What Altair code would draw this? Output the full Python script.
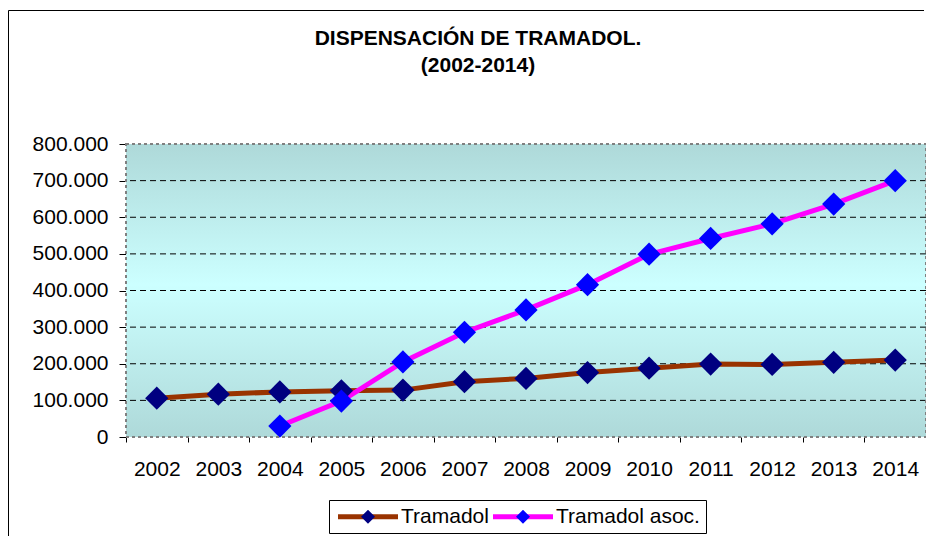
import altair as alt
import pandas as pd

# ---- data ----
years = [str(y) for y in range(2002, 2015)]
tramadol = [106000, 117000, 123000, 126000, 128000, 151000, 160000, 176000,
            188000, 199000, 198000, 204000, 210000]
asoc_years = [str(y) for y in range(2004, 2015)]
tramadol_asoc = [30000, 98000, 205000, 286000, 347000, 416000, 499000,
                 542000, 582000, 636000, 700000]
series_names = ["Tramadol", "Tramadol asoc."]
y_tick_values = [0, 100000, 200000, 300000, 400000, 500000, 600000, 700000, 800000]
title_lines = ["DISPENSACIÓN DE TRAMADOL.", "(2002-2014)"]

line_colors = ["#993300", "#FF00FF"]
marker_colors = ["#000080", "#0000FF"]

rows = [{"year": y, "serie": series_names[0], "value": v} for y, v in zip(years, tramadol)]
rows += [{"year": y, "serie": series_names[1], "value": v} for y, v in zip(asoc_years, tramadol_asoc)]
df = pd.DataFrame(rows)
df["serie_m"] = df["serie"]

grid_df = pd.DataFrame({"value": y_tick_values[1:-1]})

W, H = 800, 293
PAD_L, PAD_T = 118, 136
FONT = "Liberation Sans, Arial, sans-serif"

x_enc = alt.X("year:O", sort=years,
              scale=alt.Scale(type="band", domain=years, paddingInner=0, paddingOuter=0),
              axis=alt.Axis(title=None, labelAngle=0, labelFontSize=21, labelFont=FONT,
                            labelColor="#000000", domain=False, ticks=True, tickBand="extent",
                            tickColor="#000000", tickSize=5, labelPadding=16, grid=False))
y_scale = alt.Scale(domain=[0, 800000], nice=False, zero=True)
y_axis = alt.Axis(title=None, values=y_tick_values, labelFontSize=21, labelFont=FONT,
                  labelColor="#000000", domain=False, grid=False, tickColor="#000000",
                  tickSize=7, labelPadding=11,
                  labelExpr="replace(format(datum.value, ',d'), ',', '.')")
y_enc = alt.Y("value:Q", scale=y_scale, axis=y_axis)

one = alt.Data(values=[{"a": 1}])

gradient = alt.LinearGradient(
    gradient="linear", x1=0, x2=0, y1=0, y2=1,
    stops=[alt.GradientStop(offset=0, color="#AED9D9"),
           alt.GradientStop(offset=0.48, color="#CCFFFF"),
           alt.GradientStop(offset=1, color="#AED9D9")])

bg = alt.Chart(one).mark_rect(fill=gradient).encode(
    x=alt.value(0), x2=alt.value(W), y=alt.value(0), y2=alt.value(H))

grid = alt.Chart(grid_df).mark_rule(color="#000000", strokeWidth=1, strokeDash=[6, 4]).encode(
    y=y_enc)

# legend symbols: line from -1 to 7, diamond centred at 3 (units of half symbol box)
line_path = "M-1,0L7,0"
diamond_path = "M-1,0L-1,0M7,0L7,0M3,-0.93L3.93,0L3,0.93L2.07,0Z"
LEG_X, LEG_Y = 203, 356
leg_common = dict(title=None, orient="none", direction="horizontal",
                  legendX=LEG_X, legendY=LEG_Y, symbolSize=225, symbolStrokeWidth=5,
                  labelFontSize=21, labelFont=FONT, labelOffset=45,
                  columnPadding=-6, padding=6)

lines = alt.Chart(df).mark_line(strokeWidth=5).encode(
    x=x_enc, y=y_enc,
    color=alt.Color("serie:N", scale=alt.Scale(domain=series_names, range=line_colors),
                    legend=alt.Legend(symbolType=line_path, labelColor="#000000",
                                      strokeColor="#000000", zindex=1, **leg_common)))

points = alt.Chart(df).mark_point(shape="diamond", filled=True, size=540, opacity=1).encode(
    x=x_enc, y=y_enc,
    fill=alt.Fill("serie_m:N", scale=alt.Scale(range=marker_colors),
                  legend=alt.Legend(symbolType=diamond_path, labelOpacity=0,
                                    symbolStrokeColor="transparent", symbolOpacity=1,
                                    zindex=2, **leg_common)))

border = alt.Chart(one).mark_rect(fillOpacity=0, stroke="#808080", strokeWidth=2,
                                  strokeDash=[3, 3]).encode(
    x=alt.value(0), x2=alt.value(W), y=alt.value(0), y2=alt.value(H))

# outer chart frame (left and top edges visible in the reference)
frame_left = alt.Chart(one).mark_rule(color="#000000", strokeWidth=1).encode(
    x=alt.value(-PAD_L + 0.5), y=alt.value(-PAD_T + 2.5), y2=alt.value(H + 200))
frame_top = alt.Chart(one).mark_rule(color="#000000", strokeWidth=1).encode(
    x=alt.value(-PAD_L + 0.5), x2=alt.value(W - 2), y=alt.value(-PAD_T + 2.5))

chart = alt.layer(bg, grid, lines, points, border, frame_left, frame_top).properties(
    width=W, height=H,
    autosize=alt.AutoSizeParams(type="none"),
    padding={"left": PAD_L, "top": PAD_T, "right": 0, "bottom": 99},
    title=alt.TitleParams(text=title_lines, fontSize=21, font=FONT, fontWeight="bold",
                          color="#000000", anchor="middle", frame="group", dx=-48,
                          lineHeight=27, offset=-66),
).resolve_scale(color="independent", fill="independent").configure_view(stroke=None)

chart.save("out.html", embed_options={"renderer": "svg", "actions": False})
